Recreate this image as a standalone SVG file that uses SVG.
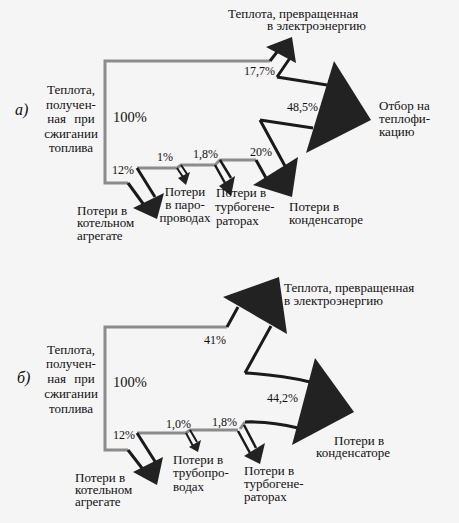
<svg xmlns="http://www.w3.org/2000/svg" width="459" height="523" viewBox="0 0 459 523">
<style>
text{fill:#111}
.t{font-size:13px}
.p{font-size:12px}
.big{font-size:14.5px}
.lab{font-style:italic;font-size:16px}
.ws{word-spacing:5px}
.g{fill:none;stroke:#8c8c8c;stroke-width:3;stroke-linejoin:miter}
.k{fill:none;stroke:#1a1a1a;stroke-width:3}
.k2{fill:none;stroke:#1a1a1a;stroke-width:2}
.h{fill:#222}
</style>
<rect width="459" height="523" fill="#f5f5f5"/>

<g id="connectors">
  <path class="g" d="M270,61 H105 V183 H128"/>
  <path class="g" d="M137,168 H177 L181,165 H215 L220,160 H256"/>
  <path class="k" d="M128,183 L144,205 M137,168 L155,197"/>
  <path class="k2" d="M177,168 L183,177 M181,165 L187,174"/>
  <path class="k2" d="M215,165 L225,183 M220,160 L231,178" style="stroke-width:2.5"/>
  <path class="k" d="M256,160 L266,178 M260,120 L285,166"/>
  <path class="k" d="M260,120 L313,128 M277,77 L327,85"/>
  <path class="k" d="M270,61 L277,52 M277,77 L290,58"/>
  <path class="g" d="M227,327 H105 V450 H128"/>
  <path class="g" d="M137,433 H186 L190,430 H238"/>
  <path class="g" d="M240,429 L245,422"/>
  <path class="k" d="M128,450 L145,472 M137,433 L156,463"/>
  <path class="k2" d="M186,433 L193,446 M190,430 L197,442"/>
  <path class="k2" d="M238,431 L250,453 M244,425 L256,448" style="stroke-width:2.5"/>
  <path class="k" d="M245,422 Q270,421 298,428"/>
  <path class="k" d="M245,373 Q280,375 310,382"/>
  <path class="k" d="M245,373 L271,326 M227,327 L238,307"/>
</g>

<g font-family="Liberation Serif, Times New Roman, DejaVu Serif, serif">
<g id="a-label"><text class="lab" x="15" y="115">а)</text></g>
<g id="a-source">
  <text class="t" text-anchor="middle" x="71" y="94">Теплота,</text>
  <text class="t" text-anchor="middle" x="71" y="109">получен-</text>
  <text class="t ws" text-anchor="middle" x="71" y="123">ная при</text>
  <text class="t" text-anchor="middle" x="71" y="138">сжигании</text>
  <text class="t" text-anchor="middle" x="71" y="152">топлива</text>
  <text class="big" x="113" y="122">100%</text>
</g>
<g id="a-boiler">
  <polygon class="h" points="133,208 164,193 157,219"/>
  <text class="p" x="112" y="174">12%</text>
  <text class="t" x="77" y="215">Потери в</text>
  <text class="t" x="77" y="227">котельном</text>
  <text class="t" x="77" y="240">агрегате</text>
</g>
<g id="a-pipes">
  <polygon class="h" points="178,178 190,172 186,185"/>
  <text class="p" x="157" y="161">1%</text>
  <text class="t" text-anchor="middle" x="185" y="196">Потери</text>
  <text class="t" text-anchor="middle" x="185" y="209">в паро-</text>
  <text class="t" text-anchor="middle" x="185" y="222">проводах</text>
</g>
<g id="a-turbogen">
  <polygon class="h" points="219,186 235,176 231,196"/>
  <text class="p" x="193" y="158">1,8%</text>
  <text class="t" x="216" y="197">Потери в</text>
  <text class="t" x="215" y="211">турбогене-</text>
  <text class="t" x="216" y="225">раторах</text>
</g>
<g id="a-condenser">
  <polygon class="h" points="253,185 298,157 292,197"/>
  <text class="p" x="250" y="156">20%</text>
  <text class="t" x="289" y="211">Потери в</text>
  <text class="t" x="289" y="224">конденсаторе</text>
</g>
<g id="a-heating">
  <polygon class="h" points="334,61 371,120 306,153"/>
  <text class="p" x="287" y="111">48,5%</text>
  <text class="t" x="379" y="110">Отбор на</text>
  <text class="t" x="379" y="123">теплофи-</text>
  <text class="t" x="379" y="136">кацию</text>
</g>
<g id="a-electric">
  <polygon class="h" points="266,47 292,37 296,63"/>
  <text class="p" x="244" y="75">17,7%</text>
  <text class="t" x="228" y="18">Теплота, превращенная</text>
  <text class="t" x="267" y="30">в электроэнергию</text>
</g>

<g id="b-label"><text class="lab" x="17" y="383">б)</text></g>
<g id="b-source">
  <text class="t" text-anchor="middle" x="71" y="354">Теплота,</text>
  <text class="t" text-anchor="middle" x="71" y="368">получен-</text>
  <text class="t ws" text-anchor="middle" x="71" y="383">ная при</text>
  <text class="t" text-anchor="middle" x="71" y="398">сжигании</text>
  <text class="t" text-anchor="middle" x="71" y="413">топлива</text>
  <text class="big" x="113" y="387">100%</text>
</g>
<g id="b-boiler">
  <polygon class="h" points="133,472 163,457 157,485"/>
  <text class="p" x="113" y="439">12%</text>
  <text class="t" x="75" y="482">Потери в</text>
  <text class="t" x="75" y="494">котельном</text>
  <text class="t" x="75" y="506">агрегате</text>
</g>
<g id="b-pipes">
  <polygon class="h" points="189,447 201,440 198,452"/>
  <text class="p" x="166" y="428">1,0%</text>
  <text class="t" x="173" y="464">Потери в</text>
  <text class="t" x="173" y="477">трубопро-</text>
  <text class="t" x="173" y="491">водах</text>
</g>
<g id="b-turbogen">
  <polygon class="h" points="244,456 265,443 260,464"/>
  <text class="p" x="212" y="426">1,8%</text>
  <text class="t" x="244" y="475">Потери в</text>
  <text class="t" x="244" y="488">турбогене-</text>
  <text class="t" x="244" y="501">раторах</text>
</g>
<g id="b-condenser">
  <polygon class="h" points="315,358 354,412 292,445"/>
  <text class="p" x="267" y="402">44,2%</text>
  <text class="t" x="334" y="445">Потери в</text>
  <text class="t" x="316" y="457">конденсаторе</text>
</g>
<g id="b-electric">
  <polygon class="h" points="223,297 279,277 287,334"/>
  <text class="p" x="204" y="344">41%</text>
  <text class="t" x="284" y="292">Теплота, превращенная</text>
  <text class="t" x="284" y="305">в электроэнергию</text>
</g>
</g>
</svg>
